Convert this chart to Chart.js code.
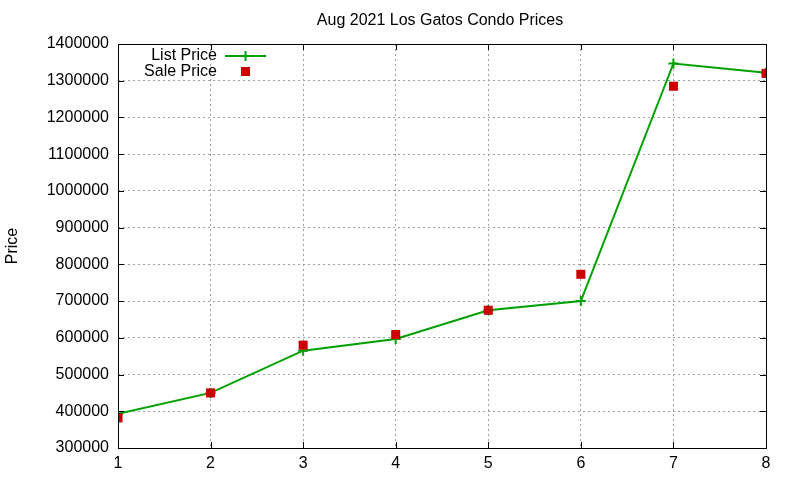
<!DOCTYPE html>
<html>
<head>
<meta charset="utf-8">
<script src="https://cdn.jsdelivr.net/npm/chart.js@4"></script>
<style>
  html, body { margin: 0; padding: 0; background: #fff; }
</style>
</head>
<body>
<canvas id="priceChart" width="800" height="480"></canvas>
<script>
// values
let days = [1, 2, 3, 4, 5, 6, 7, 8]
let listPrice = [393000, 450000, 565000, 597000, 675000, 700000, 1347000, 1322000]
let salePrice = [382000, 450000, 580000, 609000, 675000, 773000, 1285000, 1320000]
let yTicks = [300000, 400000, 500000, 600000, 700000, 800000, 900000, 1000000, 1100000, 1200000, 1300000, 1400000]

let FONT = '"Liberation Sans", Arial, sans-serif'
let GREEN = '#00a000'
let RED = '#cc0000'

// gnuplot look: black border, inward ticks on all sides, title and key drawn by hand
let gnuplotFrame = {
  id: 'gnuplotFrame',
  afterDraw(chart) {
    let ctx = chart.ctx
    let a = chart.chartArea
    let x = chart.scales.x, y = chart.scales.y
    ctx.save()
    ctx.strokeStyle = '#000'
    ctx.lineWidth = 1
    ctx.beginPath()
    y.ticks.forEach(t => {
      let py = Math.round(y.getPixelForValue(t.value)) + 0.5
      ctx.moveTo(a.left, py); ctx.lineTo(a.left + 6, py)
      ctx.moveTo(a.right, py); ctx.lineTo(a.right - 6, py)
    })
    x.ticks.forEach(t => {
      let px = Math.round(x.getPixelForValue(t.value)) + 0.5
      ctx.moveTo(px, a.bottom); ctx.lineTo(px, a.bottom - 6)
      ctx.moveTo(px, a.top); ctx.lineTo(px, a.top + 6)
    })
    ctx.stroke()
    ctx.strokeRect(Math.round(a.left) + 0.5, Math.round(a.top) + 0.5,
      Math.round(a.right - a.left), Math.round(a.bottom - a.top))

    // title
    ctx.fillStyle = '#000'
    ctx.font = '16px ' + FONT
    ctx.textAlign = 'center'
    ctx.textBaseline = 'middle'
    ctx.fillText('Aug 2021 Los Gatos Condo Prices', 440, 21)

    // key
    ctx.textAlign = 'right'
    ctx.fillText('List Price', 217, 56)
    ctx.fillText('Sale Price', 217, 72)
    ctx.strokeStyle = GREEN
    ctx.lineWidth = 2
    ctx.beginPath()
    ctx.moveTo(225, 56); ctx.lineTo(266, 56)
    ctx.moveTo(245.5, 51); ctx.lineTo(245.5, 61)
    ctx.stroke()
    ctx.fillStyle = RED
    ctx.fillRect(241, 67, 9, 9)
    ctx.restore()
  }
}

let priceChart = document.getElementById('priceChart').getContext('2d')
let prices = new Chart(priceChart, {
  type: 'line',
  data: {
    datasets: [{
      label: 'List Price',
      data: days.map((d, i) => ({x: d, y: listPrice[i]})),
      order: 1,
      borderColor: GREEN,
      backgroundColor: GREEN,
      borderWidth: 2,
      pointStyle: 'cross',
      pointRadius: 5,
      pointBorderWidth: 2,
      tension: 0
    }, {
      label: 'Sale Price',
      data: days.map((d, i) => ({x: d, y: salePrice[i]})),
      order: 0,
      showLine: false,
      borderColor: RED,
      backgroundColor: RED,
      pointStyle: 'rect',
      pointRadius: 6.4,
      pointBorderWidth: 0
    }]
  },
  options: {
    responsive: false,
    animation: false,
    devicePixelRatio: 1,
    layout: {padding: {left: 0, right: 34, top: 44, bottom: 0}},
    plugins: {
      legend: {display: false},
      title: {display: false},
      tooltip: {enabled: false}
    },
    scales: {
      x: {
        type: 'linear',
        min: 1, max: 8,
        afterFit(s) { s.height = 32 },
        afterBuildTicks(s) { s.ticks = days.map(v => ({value: v})) },
        border: {display: false, dash: [2, 3]},
        grid: {color: '#a0a0a0', lineWidth: 1, drawTicks: false},
        ticks: {color: '#000', padding: 6, autoSkip: false, font: {family: FONT, size: 16}, maxRotation: 0}
      },
      y: {
        min: 300000, max: 1400000,
        afterFit(s) { s.width = 118 },
        afterBuildTicks(s) { s.ticks = yTicks.map(v => ({value: v})) },
        border: {display: false, dash: [2, 3]},
        grid: {color: '#a0a0a0', lineWidth: 1, drawTicks: false},
        ticks: {color: '#000', padding: 9, autoSkip: false, font: {family: FONT, size: 16}, callback: v => String(v)},
        title: {display: true, text: 'Price', color: '#000', font: {family: FONT, size: 16}, padding: {top: 3, bottom: 0}}
      }
    }
  },
  plugins: [gnuplotFrame]
})
</script>
</body>
</html>
